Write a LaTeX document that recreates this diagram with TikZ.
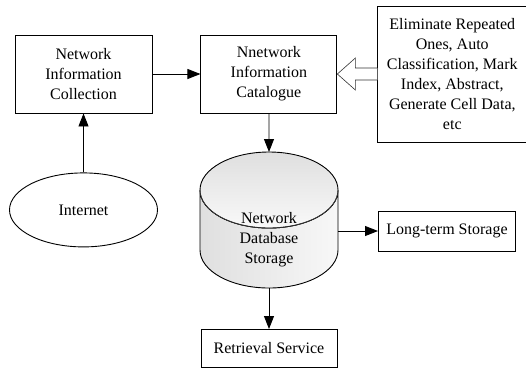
\documentclass[tikz,border=0pt]{standalone}
\usepackage{fontspec}
\setmainfont{Liberation Serif}
\usetikzlibrary{arrows.meta,positioning,calc,shapes.geometric}

\begin{document}
\begin{tikzpicture}[x=1pt,y=1pt,
  font=\fontsize{16}{20}\selectfont,
  box/.style={draw,line width=0.9pt,align=center,inner sep=2pt},
  arr/.style={-{Triangle[length=13pt,width=10pt]},line width=0.9pt},
  hollow/.style={draw=black!80,line width=0.6pt,fill=white,line join=miter}]
  \useasboundingbox (0,0) rectangle (526,-368);
  \node[box,minimum width=137pt,minimum height=78pt] (coll) at (83.5,-74) {Network\\Information\\Collection};
  \node[box,minimum width=136pt,minimum height=78pt,right=48pt of coll] (cat) {Nnetwork\\Information\\Catalogue};
  \node[box,minimum width=149pt,minimum height=136pt,right=40pt of cat] (ops) {Eliminate Repeated\\Ones, Auto\\Classification, Mark\\Index, Abstract,\\Generate Cell Data,\\etc};
  \node[draw,ellipse,line width=0.9pt,minimum width=148pt,minimum height=74pt,below=59pt of coll] (inet) {Internet};
  % database cylinder
  \coordinate (dbtop) at (269,-152);
  \coordinate (dbr) at (338,-231);
  \coordinate (dbbot) at (269,-288);
  \path[left color=gray!25,right color=gray!6,line width=0.9pt,draw]
    (200,-190) -- (200,-250) arc[start angle=180,end angle=360,x radius=69,y radius=38]
    -- (338,-190) arc[start angle=0,end angle=-180,x radius=69,y radius=38] -- cycle;
  \path[top color=gray!25,bottom color=gray!5,draw,line width=0.9pt]
    (269,-190) ellipse[x radius=69,y radius=38];
  \draw[line width=0.4pt,black!70] (200,-190) arc[start angle=180,end angle=360,x radius=69,y radius=38];
  \node[align=center] (dbtxt) at (269,-240) {Network\\Database\\Storage};
  \node[box,minimum width=137pt,minimum height=40pt,right=40pt of dbr] (lts) {Long-term Storage};
  \node[box,minimum width=136pt,minimum height=38pt,below=41pt of dbbot] (ret) {Retrieval Service};
  \draw[arr] (coll) -- (cat);
  \draw[arr] (inet) -- (coll);
  \draw[arr] (cat) -- (dbtop);
  \draw[arr] (dbr) -- (lts);
  \draw[arr] (dbbot) -- (ret);
  \draw[hollow] ($(ops.west|-cat.east)+(0,6)$) -- ($(cat.east)+(18,6)$) -- ($(cat.east)+(18,16)$)
    -- (cat.east) -- ($(cat.east)+(18,-16)$) -- ($(cat.east)+(18,-6)$) -- ($(ops.west|-cat.east)+(0,-6)$);
\end{tikzpicture}
\end{document}
